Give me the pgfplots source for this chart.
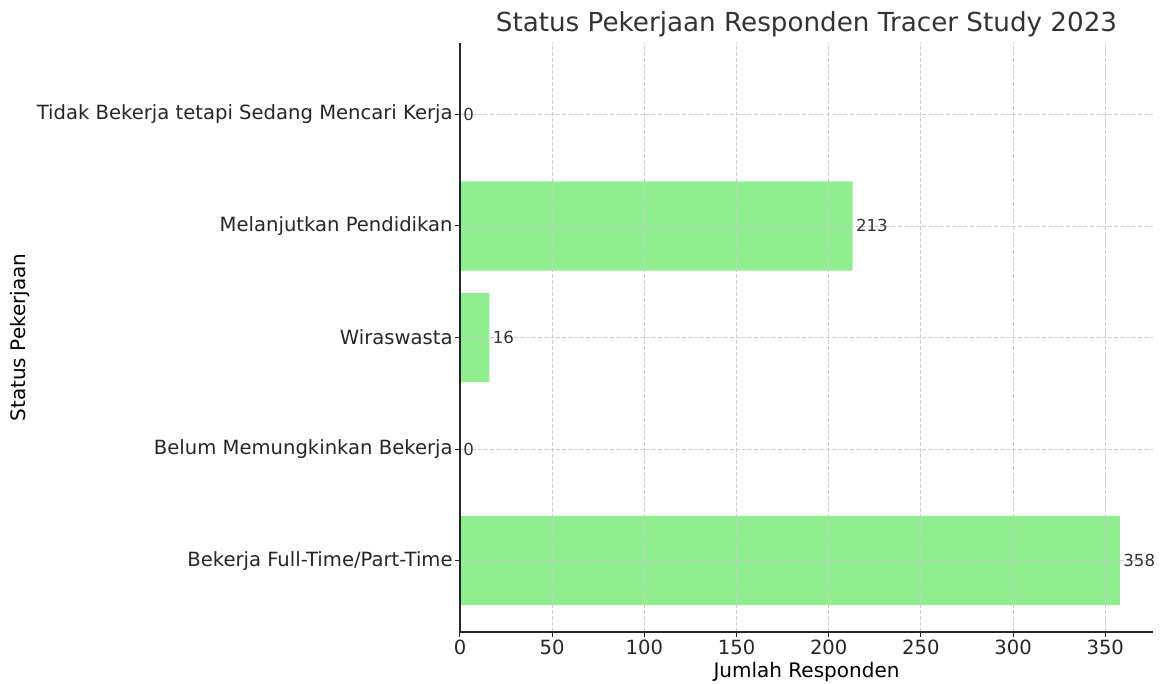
\documentclass[border=0pt]{standalone}
\usepackage{fontspec}
\setmainfont{DejaVu Sans}
\usepackage{pgfplots}
\pgfplotsset{compat=1.18}
\definecolor{barg}{HTML}{90EE90}
\definecolor{txt}{HTML}{262626}

\begin{document}
\begin{tikzpicture}
\begin{axis}[
name=ax, at={(0,0)}, anchor=south west,
scale only axis, width=346.5pt, height=294.5pt,
xbar, bar width=0.8,
xmin=0, xmax=375.9, ymin=-0.64, ymax=4.64,
axis x line*=bottom, axis y line*=left,
axis line style={line width=0.6pt, black!85},
xtick={0,50,...,350}, ytick={0,1,2,3,4},
yticklabels={Bekerja Full-Time/Part-Time, Belum Memungkinkan Bekerja, Wiraswasta, Melanjutkan Pendidikan, Tidak Bekerja tetapi Sedang Mencari Kerja},
tick align=outside, major tick length=2.5pt,
tick style={black!85, line width=0.5pt},
grid=major, grid style={dash pattern=on 1.8pt off 1.2pt, black!20, line width=0.4pt},
axis on top,
tick label style={font=\fontsize{9.8}{11}\selectfont, text=txt},
yticklabel style={inner sep=1pt},
xticklabel style={inner sep=1.5pt},
/pgf/number format/assume math mode=true,
xlabel={Jumlah Responden}, ylabel={Status Pekerjaan},
label style={font=\fontsize{8.4}{10}\selectfont, text=txt},
every axis x label/.style={at={(axis description cs:0.5,0)}, yshift=-20pt, anchor=center},
every axis y label/.style={at={(axis description cs:0,0.5)}, xshift=-220pt, rotate=90, anchor=center},
title={Status Pekerjaan Responden Tracer Study 2023},
title style={font=\fontsize{13.1}{15}\selectfont, text=black!80, at={(axis description cs:0.5,1)}, yshift=3.5pt, anchor=center},
nodes near coords, point meta=x,
nodes near coords style={font=\fontsize{8.3}{9}\selectfont, text=black!80, anchor=west, inner sep=1.5pt},
]
\addplot[fill=barg, draw=none] coordinates {(358,0) (0,1) (16,2) (213,3) (0,4)};
\end{axis}
\pgfresetboundingbox
\path[use as bounding box] (-230pt,-26pt) rectangle (351pt,316pt);
\end{tikzpicture}
\end{document}
